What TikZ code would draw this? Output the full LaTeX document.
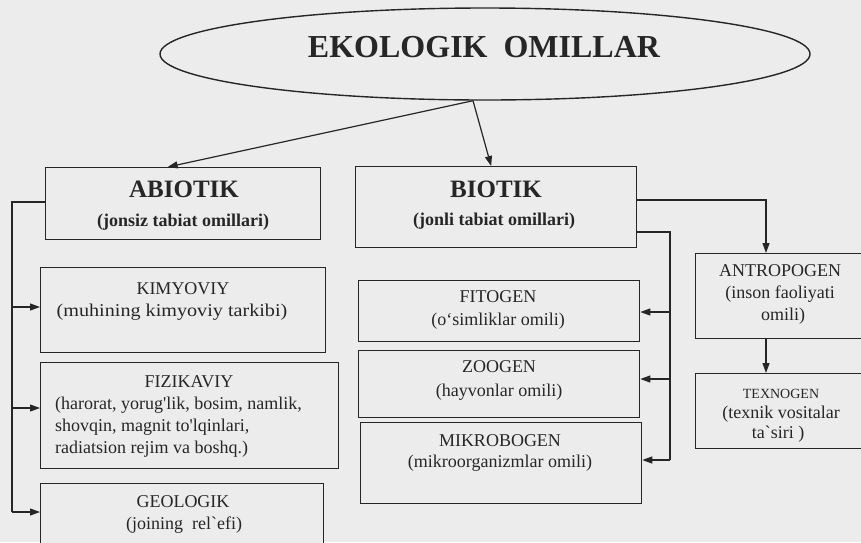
\documentclass[tikz,border=0pt]{standalone}
\usepackage{fontspec}
\usepackage{graphicx}
\newfontfamily\tnr{Liberation Serif}
\usetikzlibrary{shapes.geometric,arrows.meta}
\definecolor{paper}{RGB}{236,236,236}
\definecolor{ink}{RGB}{38,38,38}
\begin{document}
\begin{tikzpicture}[x=1pt,y=-1pt,
  box/.style={draw=ink, line width=1.3pt, fill=paper, rectangle, inner sep=0pt, anchor=north west},
  lbl/.style={anchor=base, inner sep=0pt, text=ink, font={\tnr\fontsize{18}{22}\selectfont}},
  blbl/.style={lbl, font={\tnr\bfseries\fontsize{18}{22}\selectfont}},
  head/.style={lbl, font={\tnr\bfseries\fontsize{25}{30}\selectfont}},
  small/.style={lbl, font={\tnr\fontsize{14}{17}\selectfont}},
  conn/.style={draw=ink, line width=1.2pt},
  arr/.style={conn, -{Triangle[length=10pt,width=7pt]}},
]
\useasboundingbox (0,0) rectangle (861,542);
\clip (0,0) rectangle (861,542);
\fill[paper] (0,0) rectangle (861,542);

% top ellipse
\node[draw=ink, line width=1.4pt, ellipse, inner sep=0pt,
      minimum width=650pt, minimum height=92pt] (ell) at (485,54) {};
\node[lbl, font={\tnr\bfseries\fontsize{32}{38}\selectfont}] (eltxt) at (484,57)
  {EKOLOGIK\ \ OMILLAR};

% main boxes
\node[box, minimum width=275pt, minimum height=72pt] (abio) at (45,167) {};
\node[box, minimum width=281pt, minimum height=81pt] (bio) at (355,166) {};

% abiotic factors
\node[box, minimum width=285pt, minimum height=85pt] (kim) at (40,267) {};
\node[box, minimum width=298pt, minimum height=106pt] (fiz) at (40,362) {};
\node[box, minimum width=283pt, minimum height=80pt] (geo) at (40,483) {};

% biotic factors
\node[box, minimum width=281pt, minimum height=61pt] (fit) at (358,280) {};
\node[box, minimum width=281pt, minimum height=67pt] (zoo) at (358,350) {};
\node[box, minimum width=281pt, minimum height=81pt] (mik) at (360,422) {};
\node[box, minimum width=175pt, minimum height=85pt] (ant) at (695,253) {};
\node[box, minimum width=175pt, minimum height=75pt] (tex) at (695,373) {};

% labels
\node[head] (abioA) at (184,197) {ABIOTIK};
\node[blbl] (abioB) at (183,226) {(jonsiz tabiat omillari)};
\node[head] (bioA) at (496,197) {BIOTIK};
\node[blbl] (bioB) at (494,225) {(jonli tabiat omillari)};

\node[lbl] (kimA) at (183,294) {KIMYOVIY};
\node[lbl] (kimB) at (172,316) {\scalebox{1.12}[1]{(muhining kimyoviy tarkibi)}};

\node[lbl] (fizA) at (189,387) {FIZIKAVIY};
\node[lbl, anchor=base west] (fizB) at (55,409) {(harorat, yorug'lik, bosim, namlik,};
\node[lbl, anchor=base west] (fizC) at (55,431) {shovqin, magnit to'lqinlari,};
\node[lbl, anchor=base west] (fizD) at (55,453) {radiatsion rejim va boshq.)};

\node[lbl] (geoA) at (183,507) {GEOLOGIK};
\node[lbl] (geoB) at (184,529) {(joining\ \ rel`efi)};

\node[lbl] (fitA) at (498,302) {FITOGEN};
\node[lbl] (fitB) at (498,325) {(o‘simliklar omili)};
\node[lbl] (zooA) at (499,372) {ZOOGEN};
\node[lbl] (zooB) at (499,396) {(hayvonlar omili)};
\node[lbl] (mikA) at (500,446) {MIKROBOGEN};
\node[lbl] (mikB) at (500,467) {(mikroorganizmlar omili)};

\node[lbl] (antA) at (780,276) {ANTROPOGEN};
\node[lbl] (antB) at (780,298) {(inson faoliyati};
\node[lbl] (antC) at (783,320) {omili)};
\node[small] (texA) at (781,398) {TEXNOGEN};
\node[lbl] (texB) at (781,418) {(texnik vositalar};
\node[lbl] (texC) at (778,438) {ta`siri )};

% connectors from the ellipse
\coordinate (es) at ([xshift=-12pt]ell.south);
\draw[arr] (es) -- ([xshift=-15.5pt]abio.north);
\draw[arr] (es) -- ([xshift=-5pt]bio.north);

% abiotic branch
\coordinate (l0) at (12,202);
\coordinate (l1) at (12,307);
\coordinate (l2) at (12,408);
\coordinate (l3) at (12,512);
\draw[conn] (l0 -| abio.west) -- (l0) -- (l3);
\draw[arr] (l1) -- (l1 -| kim.west);
\draw[arr] (l2) -- (l2 -| fiz.west);
\draw[arr] (l3) -- (l3 -| geo.west);

% biotic branch
\coordinate (r0) at (766,200);
\draw[arr] (r0 -| bio.east) -- (r0) -- (r0 |- ant.north);
\draw[arr] (r0 |- ant.south) -- (r0 |- tex.north);
\coordinate (m0) at (670,232);
\coordinate (m1) at (670,312);
\coordinate (m2) at (670,379);
\coordinate (m3) at (670,460);
\draw[conn] (m0 -| bio.east) -- (m0) -- (m3);
\draw[arr] (m1) -- (m1 -| fit.east);
\draw[arr] (m2) -- (m2 -| zoo.east);
\draw[arr] (m3) -- (m3 -| mik.east);
\end{tikzpicture}
\end{document}
